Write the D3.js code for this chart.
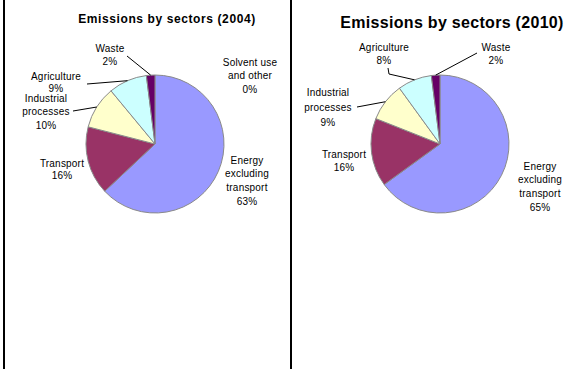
<!DOCTYPE html>
<html>
<head>
<meta charset="utf-8">
<script src="https://cdn.jsdelivr.net/npm/d3@7/dist/d3.min.js"></script>
<style>
  html, body { margin: 0; padding: 0; background: #fff; }
  svg { display: block; font-family: "Liberation Sans", Arial, sans-serif; }
</style>
</head>
<body>
<svg id="chart" width="565" height="369"></svg>
<script>
// Sector shares of emissions (percent)
const sectors2004 = ["Energy excluding transport", "Transport", "Industrial processes", "Agriculture", "Waste", "Solvent use and other"];
const values2004  = [63, 16, 10, 9, 2, 0];

const sectors2010 = ["Energy excluding transport", "Transport", "Industrial processes", "Agriculture", "Waste"];
const values2010  = [65, 16, 9, 8, 2];

// Label lines for each sector (text shown beside the pie)
const labelLines = {
  "Energy excluding transport": ["Energy", "excluding", "transport"],
  "Transport": ["Transport"],
  "Industrial processes": ["Industrial", "processes"],
  "Agriculture": ["Agriculture"],
  "Waste": ["Waste"],
  "Solvent use and other": ["Solvent use", "and other"]
};

const sectorColors = {
  "Energy excluding transport": "#9999FF",
  "Transport": "#993366",
  "Industrial processes": "#FFFFCC",
  "Agriculture": "#CCFFFF",
  "Waste": "#660066",
  "Solvent use and other": "#FF8080"
};

// Layout for each panel: pie centre, title and label placement (offsets from the pie centre)
const panels = [
  {
    title: "Emissions by sectors (2004)", titleX: 167, titleY: 19, titleSize: 12, titleSpacing: 0.6,
    cx: 155, cy: 144, r: 69, sectors: sectors2004, values: values2004, lineH: 13.7,
    labels: {
      "Waste": { dx: -45, dy: -96, leader: [[-28, -88]] },
      "Agriculture": { dx: -99, dy: -68, lineH: 12, leader: [[-68, -60]] },
      "Industrial processes": { dx: -109, dy: -46, leader: [[-82, -33]] },
      "Solvent use and other": { dx: 95, dy: -82 },
      "Transport": { dx: -93, dy: 19, lineH: 12.5 },
      "Energy excluding transport": { dx: 92, dy: 16 }
    }
  },
  {
    title: "Emissions by sectors (2010)", titleX: 452, titleY: 22, titleSize: 16, titleSpacing: 0.3,
    cx: 440, cy: 144, r: 69, sectors: sectors2010, values: values2010, lineH: 13.8,
    labels: {
      "Agriculture": { dx: -56, dy: -97, leader: [[-52, -76], [-51, -70]] },
      "Waste": { dx: 56, dy: -97, leader: [[37, -91]] },
      "Industrial processes": { dx: -112, dy: -52, lineH: 15, leader: [[-83, -37]] },
      "Transport": { dx: -96, dy: 10 },
      "Energy excluding transport": { dx: 100, dy: 22 }
    }
  }
];

const svg = d3.select("#chart");

svg.append("rect").attr("width", 565).attr("height", 369).attr("fill", "#fff");

// Panel divider lines
[4, 291].forEach(x => {
  svg.append("line")
    .attr("x1", x).attr("x2", x).attr("y1", 0).attr("y2", 369)
    .attr("stroke", "#000").attr("stroke-width", 2);
});

const pie = d3.pie().sort(null).value(d => d.value);

panels.forEach(p => {
  const data = p.sectors.map((s, i) => ({ sector: s, value: p.values[i] }));
  const arcs = pie(data);
  const arc = d3.arc().innerRadius(0).outerRadius(p.r);

  svg.append("text")
    .attr("x", p.titleX).attr("y", p.titleY)
    .attr("text-anchor", "middle").attr("dy", "0.35em")
    .attr("font-size", p.titleSize).attr("font-weight", "bold")
    .attr("letter-spacing", p.titleSpacing)
    .text(p.title);

  const g = svg.append("g").attr("transform", `translate(${p.cx},${p.cy})`);

  g.selectAll("path.slice")
    .data(arcs.filter(a => a.value > 0))
    .join("path")
    .attr("class", "slice")
    .attr("d", arc)
    .attr("fill", d => sectorColors[d.data.sector])
    .attr("stroke", "#8a8a8a")
    .attr("stroke-width", 1)
    .attr("stroke-linejoin", "round");

  arcs.forEach(a => {
    const lab = p.labels[a.data.sector];
    if (!lab) return;
    const lines = labelLines[a.data.sector].concat([a.data.value + "%"]);
    const lh = lab.lineH || p.lineH;

    if (lab.leader) {
      const mid = (a.startAngle + a.endAngle) / 2;
      const end = [p.r * Math.sin(mid), -p.r * Math.cos(mid)];
      g.append("path")
        .attr("d", d3.line()(lab.leader.concat([end])))
        .attr("fill", "none")
        .attr("stroke", "#000")
        .attr("stroke-width", 1);
    }

    const t = g.append("text")
      .attr("text-anchor", "middle")
      .attr("font-size", 10)
      .attr("letter-spacing", 0.2)
      .attr("fill", "#000");
    lines.forEach((ln, i) => {
      t.append("tspan")
        .attr("x", lab.dx)
        .attr("y", lab.dy + i * lh)
        .attr("dy", "0.35em")
        .text(ln);
    });
  });
});
</script>
</body>
</html>
